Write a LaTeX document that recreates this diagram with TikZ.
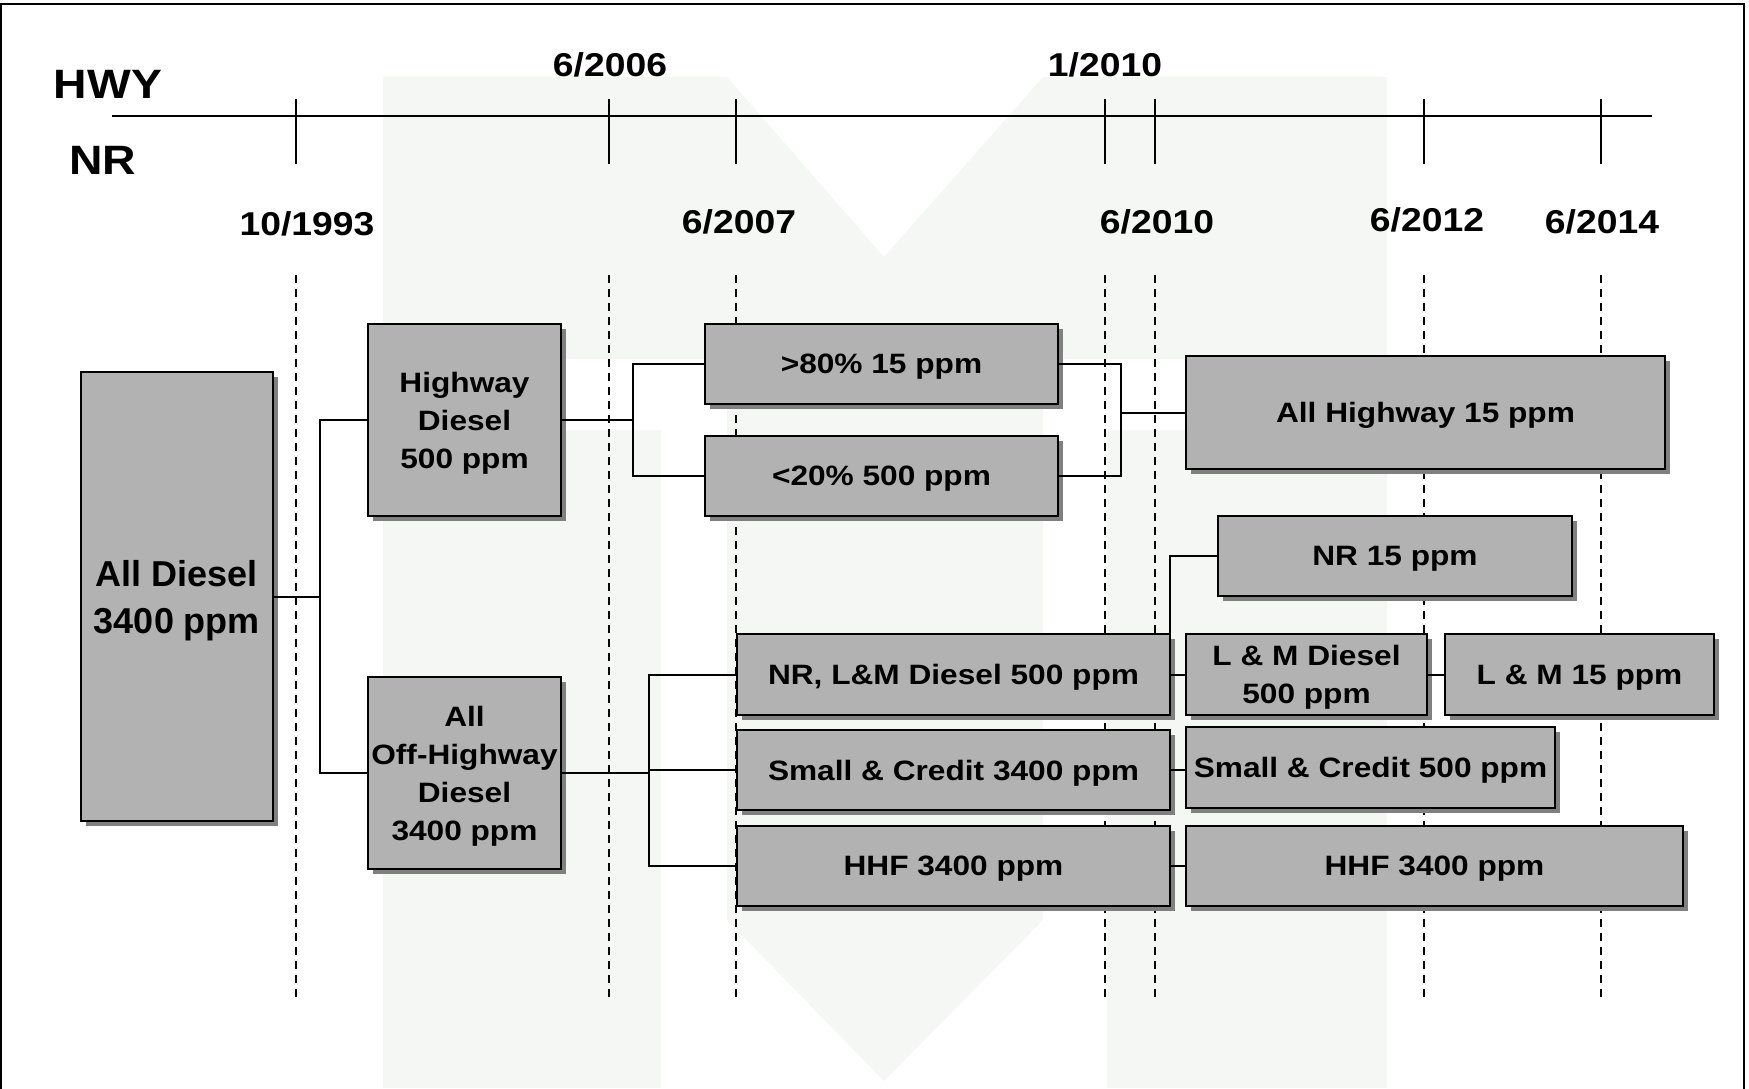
\documentclass[tikz,border=0pt]{standalone}
\usepackage{fontspec}
\setmainfont{Liberation Sans}
\newfontfamily\widesans[FakeStretch=1.13]{Liberation Sans}
\usetikzlibrary{positioning, shadows}

\definecolor{boxgray}{RGB}{178,178,178}
\definecolor{shadegray}{RGB}{128,128,128}
\definecolor{wmark}{RGB}{245,247,245}

\begin{document}
\begin{tikzpicture}[
    x=0.5pt, y=-0.5pt,
    box/.style={
        draw,
        line width=1.2pt,
        fill=boxgray,
        inner sep=0pt,
        outer sep=0pt,
        text depth=0pt,
        align=center,
        font=\widesans\bfseries\fontsize{14}{19}\selectfont,
        drop shadow={shadow xshift=2.5pt, shadow yshift=-2.5pt, fill=shadegray, opacity=1}
    },
    boxsize/.style 2 args={minimum width=#1*0.5pt, minimum height=#2*0.5pt},
    date/.style={font=\widesans\bfseries\fontsize{16.5}{20}\selectfont},
    road/.style={font=\widesans\bfseries\fontsize{20.5}{24}\selectfont},
    link/.style={line width=1pt},
    guide/.style={line width=0.8pt, dash pattern=on 4pt off 3pt}
]
\useasboundingbox (0,0) rectangle (1749,1088);

% faint M in the background
\fill[wmark] (383,77) -- (727,77) -- (884,257) -- (1043,77) -- (1387,77) -- (1387,359) -- (383,359) -- cycle;
\fill[wmark] (727,359) -- (1043,359) -- (1043,920) -- (884,1081) -- (727,920) -- cycle;
\fill[wmark] (383,430) rectangle (661,1088);
\fill[wmark] (1107,430) rectangle (1387,1088);

% frame
\draw[line width=1pt] (1,1092) -- (1,4) -- (1744,4) -- (1744,1092);

% time axis
\coordinate (axisstart) at (112,116);
\coordinate (axisend) at (1652,116);
\draw[line width=1pt] (axisstart) -- (axisend);
\foreach \t in {296,609,736,1105,1155,1424,1601} {
    \draw[line width=0.8pt] (\t,99) -- (\t,164);
    \draw[guide] (\t,275) -- (\t,997);
}

\node[road] (hwy) at (108,84) {HWY};
\node[road] (nr) at (103,160) {NR};

% dates
\node[date] (d2006) at (610,65) {6/2006};
\node[date] (d2010a) at (1105,65) {1/2010};
\node[date] (d1993) at (307,224) {10/1993};
\node[date] (d2007) at (739,222) {6/2007};
\node[date] (d2010b) at (1157,222) {6/2010};
\node[date] (d2012) at (1427,220) {6/2012};
\node[date] (d2014) at (1602,222) {6/2014};

% fuels
\node[box, boxsize={192}{449}, font=\bfseries\fontsize{18}{23.5}\selectfont] (alldiesel) at (177,596.5) {All Diesel\\3400 ppm};

\node[box, boxsize={193}{192}] (hwydiesel) at (464.5,420) {Highway\\Diesel\\500 ppm};

\node[box, boxsize={193}{192}] (offhwy) at (464.5,773) {All\\Off-Highway\\Diesel\\3400 ppm};

\node[box, boxsize={353}{80}] (hwy15) at (881.5,364) {>80\% 15 ppm};

\node[box, boxsize={353}{80}, below=16pt of hwy15] (hwy500) {<20\% 500 ppm};

\node[box, boxsize={479}{113}] (allhwy) at (1425.5,412.5) {All Highway 15 ppm};

\node[box, boxsize={354}{80}] (nr15) at (1395,556) {NR 15 ppm};

\node[box, boxsize={433}{81}] (nrlm) at (953.5,674.5) {NR, L\&M Diesel 500 ppm};

\node[box, boxsize={241}{81}, right=8pt of nrlm] (lmdiesel) {L \& M Diesel\\500 ppm};

\node[box, boxsize={269}{81}, right=9pt of lmdiesel] (lm15) {L \& M 15 ppm};

\node[box, boxsize={433}{80}, below=7.5pt of nrlm] (small3400) {Small \& Credit 3400 ppm};

\node[box, boxsize={369}{81}] (small500) at (1370.5,767.5) {Small \& Credit 500 ppm};

\node[box, boxsize={433}{80}, below=8pt of small3400] (hhf3400a) {HHF 3400 ppm};

\node[box, boxsize={497}{80}, right=8pt of hhf3400a] (hhf3400b) {HHF 3400 ppm};

% forks
\coordinate (fork1) at (320,596.5);
\coordinate (fork2) at (633,420);
\coordinate (fork3) at (1121,412.5);
\coordinate (fork4) at (649,773);

% links
\draw[link] (alldiesel.east) -- (fork1);
\draw[link] (hwydiesel.west) -| (fork1) |- (offhwy.west);
\draw[link] (hwydiesel.east) -- (fork2);
\draw[link] (hwy15.west) -| (fork2) |- (hwy500.west);
\draw[link] (hwy15.east) -| (fork3) |- (hwy500.east);
\draw[link] (fork3) -- (allhwy.west);
\draw[link] (offhwy.east) -- (fork4);
\draw[link] (nrlm.west) -| (fork4) |- (hhf3400a.west);
\draw[link] (fork4 |- small3400.west) -- (small3400.west);
\draw[link] (nrlm.north east) |- (nr15.west);
\draw[link] (nrlm.east) -- (lmdiesel.west);
\draw[link] (lmdiesel.east) -- (lm15.west);
\draw[link] (small3400.east) -- (small3400.east -| small500.west);
\draw[link] (hhf3400a.east) -- (hhf3400b.west);

\end{tikzpicture}
\end{document}
